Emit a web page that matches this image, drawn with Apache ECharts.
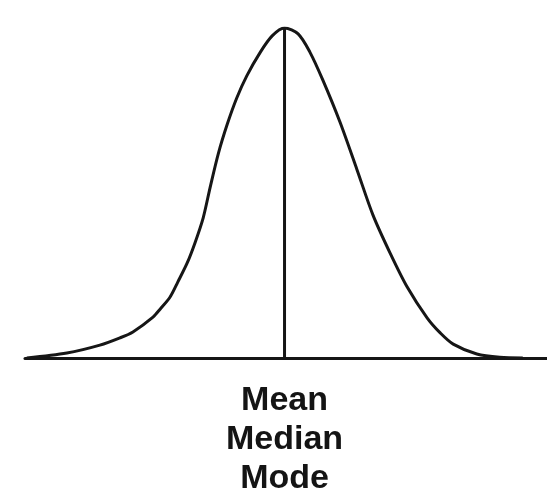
<!DOCTYPE html>
<html>
<head>
<meta charset="utf-8">
<style>
  html, body { margin: 0; padding: 0; background: #ffffff; }
  #chart { width: 547px; height: 499px; }
</style>
<script src="https://cdn.jsdelivr.net/npm/echarts@6/dist/echarts.min.js"></script>
</head>
<body>
<div id="chart"></div>
<script>
// Bell curve: x in standard-deviation units, y as relative height (peak = 100)
const curveX = [-4.37, -3.69, -3.13, -2.79, -2.57, -2.23, -2.11, -1.94, -1.81, -1.65, -1.52, -1.38, -1.26, -1.12,
                -0.97, -0.81, -0.64, -0.42, -0.21, 0,
                0.23, 0.43, 0.65, 0.94, 1.23, 1.50, 1.79, 2.08, 2.42, 2.64, 2.86, 3.26, 3.65, 4.04];
const curveY = [0, 1.5, 3.9, 6.1, 7.9, 12.4, 14.8, 18.5, 23.0, 28.8, 34.8, 42.4, 51.8, 62.1,
                70.9, 78.8, 85.5, 92.4, 97.6, 100,
                98.2, 92.7, 84.2, 71.5, 57.0, 43.3, 31.8, 21.5, 12.1, 7.6, 4.2, 1.2, 0.2, 0];

// Centre of the distribution, where mean, median and mode coincide
const centerX = 0;
const peakY = 100;
const centerLabel = ['Mean', 'Median', 'Mode'];

const ink = '#161616';

const chart = echarts.init(document.getElementById('chart'), null, { renderer: 'canvas' });

chart.setOption({
  animation: false,
  backgroundColor: '#ffffff',
  grid: { left: 25, right: 0, top: 28, bottom: 141, containLabel: false },
  xAxis: {
    type: 'value',
    min: -4.4,
    max: 4.45,
    splitLine: { show: false },
    axisLine: { show: true, onZero: true, lineStyle: { color: ink, width: 3 } },
    axisTick: { show: false },
    axisLabel: {
      show: true,
      customValues: [centerX],
      formatter: () => centerLabel.join('\n'),
      fontFamily: 'Liberation Sans, Arial, sans-serif',
      fontWeight: 'bold',
      fontSize: 34,
      lineHeight: 39,
      color: '#141414',
      margin: 23,
      align: 'center'
    }
  },
  yAxis: {
    type: 'value',
    min: 0,
    max: 100,
    show: false,
    splitLine: { show: false }
  },
  series: [
    {
      name: 'distribution',
      type: 'line',
      smooth: 0.3,
      symbol: 'none',
      data: curveX.map((x, i) => [x, curveY[i]]),
      lineStyle: { color: ink, width: 3 },
      z: 3
    },
    {
      name: 'center',
      type: 'line',
      symbol: 'none',
      data: [[centerX, 0], [centerX, peakY]],
      lineStyle: { color: ink, width: 3 },
      z: 2
    }
  ]
});
</script>
</body>
</html>
